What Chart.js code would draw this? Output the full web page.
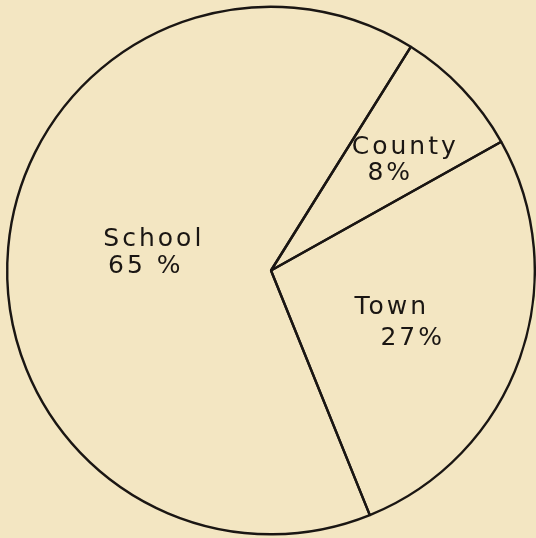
<!DOCTYPE html>
<html>
<head>
<meta charset="utf-8">
<script src="https://cdn.jsdelivr.net/npm/chart.js@4.4.1/dist/chart.umd.min.js"></script>
<style>
  html, body { margin: 0; padding: 0; background: #f3e6c2; }
  #wrap { width: 536px; height: 538px; }
</style>
</head>
<body>
<div id="wrap"><canvas id="pie"></canvas></div>
<script>
const categories = ['County', 'Town', 'School'];
const shares = [8, 27, 65];
const shareLabels = ['8%', '27%', '65 %'];

// where each label sits: fraction of radius, angle nudge (deg), per-line [dx, dy]
const labelSpots = [
    { r: 0.63, nudge: 2, name: [10, -13], pct: [-5, 13] },
    { r: 0.52, nudge: 2, name: [-7, -13], pct: [14, 18] },
    { r: 0.46, nudge: 3, name: [3, -14], pct: [-5, 13] }
];

const handLabels = {
    id: 'handLabels',
    afterDatasetsDraw(chart) {
        const ctx = chart.ctx;
        const arcs = chart.getDatasetMeta(0).data;
        ctx.save();
        ctx.fillStyle = '#1a1613';
        ctx.font = '25px "DejaVu Sans", sans-serif';
        ctx.letterSpacing = '3px';
        ctx.textAlign = 'center';
        ctx.textBaseline = 'middle';
        arcs.forEach((arc, i) => {
            const spot = labelSpots[i];
            const mid = (arc.startAngle + arc.endAngle) / 2 + spot.nudge * Math.PI / 180;
            const x = arc.x + Math.cos(mid) * arc.outerRadius * spot.r;
            const y = arc.y + Math.sin(mid) * arc.outerRadius * spot.r;
            ctx.fillText(categories[i], x + spot.name[0], y + spot.name[1]);
            ctx.fillText(shareLabels[i], x + spot.pct[0], y + spot.pct[1]);
        });
        ctx.restore();
    }
};

new Chart(document.getElementById('pie'), {
    type: 'pie',
    data: {
        labels: categories,
        datasets: [{
            data: shares,
            backgroundColor: 'rgba(0,0,0,0)',
            borderColor: '#1a1613',
            borderWidth: 2.4,
            borderAlign: 'center'
        }]
    },
    options: {
        responsive: true,
        maintainAspectRatio: false,
        animation: false,
        rotation: 32,
        layout: { padding: { left: 6, right: 0, top: 5, bottom: 2 } },
        plugins: {
            legend: { display: false },
            tooltip: { enabled: false }
        }
    },
    plugins: [handLabels]
});
</script>
</body>
</html>
